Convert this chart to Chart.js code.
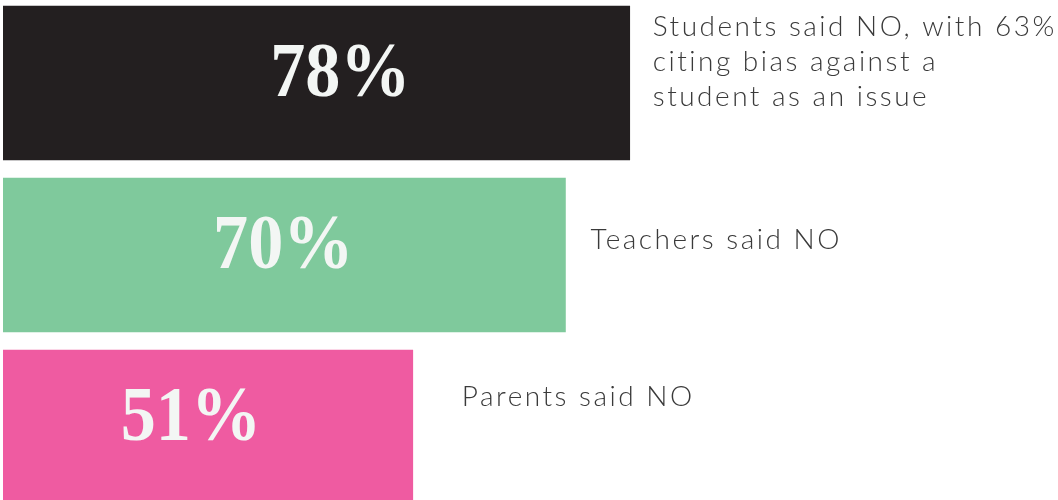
<!DOCTYPE html>
<html>
<head>
<meta charset="utf-8">
<script src="https://cdn.jsdelivr.net/npm/chart.js@4"></script>
<style>
  html, body { margin: 0; padding: 0; background: #fff; overflow: hidden; }
  #wrap { position: relative; width: 1058px; height: 500px; overflow: hidden; }
  #chart { position: absolute; left: 0; top: -3px; }
</style>
</head>
<body>
<div id="wrap"><canvas id="chart" width="1058" height="516"></canvas></div>
<script>
// podaci
const categories = ["Students", "Teachers", "Parents"];
const saidNo = [78, 70, 51];
const barColors = ["#231f20", "#7fc99c", "#ef5ba1"];
const notes = [
  ["Students said NO, with 63%", "citing bias against a", "student as an issue"],
  ["Teachers said NO"],
  ["Parents said NO"]
];

// crtanje procenata u stupcu i teksta desno od stupca
const labelPlugin = {
  id: "labels",
  afterDatasetsDraw(chart, args, opts) {
    const ctx = chart.ctx;
    const meta = chart.getDatasetMeta(0);
    meta.data.forEach((bar, i) => {
      // procenat
      ctx.save();
      ctx.fillStyle = "#f3f6f4";
      ctx.font = "bold 78px 'Liberation Serif'";
      ctx.textAlign = "center";
      ctx.textBaseline = "alphabetic";
      let cx = (bar.base + bar.x) / 2 + opts.numShift[i];
      ctx.translate(cx, bar.y + 13);
      ctx.scale(0.9, 1);
      ctx.fillText(saidNo[i] + "%", 0, 0);
      ctx.restore();

      // napomena
      ctx.save();
      ctx.fillStyle = "#3a3a3a";
      ctx.font = "300 28px Lato";
      ctx.letterSpacing = "2.5px";
      ctx.textAlign = "left";
      ctx.textBaseline = "middle";
      let lines = notes[i];
      let lh = 35;
      let y0 = bar.y + opts.noteShift[i] - (lines.length - 1) * lh / 2;
      lines.forEach((t, k) => {
        ctx.fillText(t, bar.x + opts.noteGap[i], y0 + k * lh);
      });
      ctx.restore();
    });
  }
};

new Chart(document.getElementById("chart"), {
  type: "bar",
  data: {
    labels: categories,
    datasets: [{
      data: saidNo,
      backgroundColor: barColors,
      borderWidth: 0,
      barThickness: 154
    }]
  },
  options: {
    responsive: false,
    animation: false,
    indexAxis: "y",
    layout: { padding: { left: 3, right: 0, top: 0, bottom: 0 } },
    plugins: {
      legend: { display: false },
      tooltip: { enabled: false },
      labels: {
        numShift: [24, -1, -17],
        noteGap: [23, 25, 49],
        noteShift: [-21, -15, -30]
      }
    },
    scales: {
      x: { display: false, min: 0, max: 131.3 },
      y: { display: false }
    }
  },
  plugins: [labelPlugin]
});
</script>
</body>
</html>
